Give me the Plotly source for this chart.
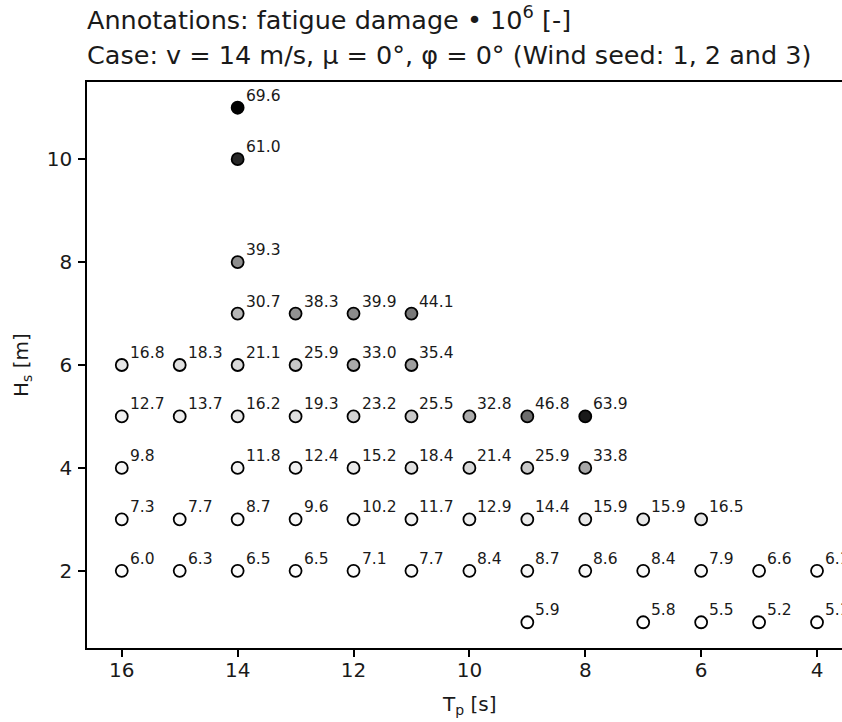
import plotly.graph_objects as go

# Data: wave peak period Tp [s], significant wave height Hs [m], fatigue damage * 1e6
tp = [16, 16, 16, 16, 16,
      15, 15, 15, 15,
      14, 14, 14, 14, 14, 14, 14, 14, 14,
      13, 13, 13, 13, 13, 13,
      12, 12, 12, 12, 12, 12,
      11, 11, 11, 11, 11, 11,
      10, 10, 10, 10,
      9, 9, 9, 9, 9,
      8, 8, 8, 8,
      7, 7, 7,
      6, 6, 6,
      5, 5,
      4, 4]
hs = [6, 5, 4, 3, 2,
      6, 5, 3, 2,
      11, 10, 8, 7, 6, 5, 4, 3, 2,
      7, 6, 5, 4, 3, 2,
      7, 6, 5, 4, 3, 2,
      7, 6, 5, 4, 3, 2,
      5, 4, 3, 2,
      5, 4, 3, 2, 1,
      5, 4, 3, 2,
      3, 2, 1,
      3, 2, 1,
      2, 1,
      2, 1]
damage = [16.8, 12.7, 9.8, 7.3, 6.0,
          18.3, 13.7, 7.7, 6.3,
          69.6, 61.0, 39.3, 30.7, 21.1, 16.2, 11.8, 8.7, 6.5,
          38.3, 25.9, 19.3, 12.4, 9.6, 6.5,
          39.9, 33.0, 23.2, 15.2, 10.2, 7.1,
          44.1, 35.4, 25.5, 18.4, 11.7, 7.7,
          32.8, 21.4, 12.9, 8.4,
          46.8, 25.9, 14.4, 8.7, 5.9,
          63.9, 33.8, 15.9, 8.6,
          15.9, 8.4, 5.8,
          16.5, 7.9, 5.5,
          6.6, 5.2,
          6.1, 5.1]

x_ticks = [4, 6, 8, 10, 12, 14, 16]
y_ticks = [2, 4, 6, 8, 10]

title_line1 = "Annotations: fatigue damage \u2022 10<sup>6</sup> [-]"
title_line2 = "Case: v = 14 m/s, \u03bc = 0\u00b0, \u03c6 = 0\u00b0 (Wind seed: 1, 2 and 3)"
x_title = "T<sub>p</sub> [s]"
y_title = "H<sub>s</sub> [m]"

# matplotlib "Greys" colormap
greys = [[0.0, "#ffffff"], [0.125, "#f0f0f0"], [0.25, "#d9d9d9"], [0.375, "#bdbdbd"],
         [0.5, "#969696"], [0.625, "#737373"], [0.75, "#525252"], [0.875, "#252525"],
         [1.0, "#000000"]]

FONT = "DejaVu Sans"
TXT = "#1a1a1a"

fig = go.Figure()
fig.add_trace(go.Scatter(
    x=tp, y=hs, mode="markers",
    marker=dict(size=12, color=damage, colorscale=greys,
                cmin=min(damage), cmax=max(damage),
                line=dict(color="black", width=1.8)),
    hoverinfo="skip", showlegend=False, cliponaxis=False,
))

annotations = []
for xv, yv, d in zip(tp, hs, damage):
    annotations.append(dict(
        x=xv, y=yv, xref="x", yref="y", text=f"{d:.1f}", showarrow=False,
        xanchor="left", yanchor="middle", xshift=6, yshift=12,
        font=dict(family=FONT, size=15.5, color=TXT),
    ))

annotations.append(dict(xref="paper", yref="paper", x=0, y=1, xanchor="left",
                        yanchor="bottom", yshift=45, xshift=-2, text=title_line1, showarrow=False,
                        font=dict(family=FONT, size=25.5, color=TXT)))
annotations.append(dict(xref="paper", yref="paper", x=0, y=1, xanchor="left",
                        yanchor="bottom", yshift=10, xshift=-2, text=title_line2, showarrow=False,
                        font=dict(family=FONT, size=25.5, color=TXT)))
annotations.append(dict(xref="paper", yref="paper", x=0.507, y=0, xanchor="center",
                        yanchor="middle", yshift=-57, text=x_title, showarrow=False,
                        font=dict(family=FONT, size=20, color=TXT)))
annotations.append(dict(xref="paper", yref="paper", x=0, y=0.5, xanchor="center",
                        yanchor="middle", xshift=-65, text=y_title, showarrow=False,
                        textangle=-90, font=dict(family=FONT, size=20, color=TXT)))

fig.update_layout(
    width=842, height=722,
    margin=dict(l=87, r=0, t=82, b=74),
    paper_bgcolor="white", plot_bgcolor="white",
    font=dict(family=FONT, size=20, color=TXT),
    annotations=annotations,
    xaxis=dict(range=[16.6, 3.569], tickvals=x_ticks, showgrid=False, zeroline=False,
               showline=True, linecolor="black", linewidth=1.5, mirror=True,
               ticks="outside", ticklen=7, tickwidth=1.5, tickcolor="black",
               ticklabelstandoff=-4,
               tickfont=dict(family=FONT, size=20, color=TXT)),
    yaxis=dict(range=[0.5, 11.5], tickvals=y_ticks, showgrid=False, zeroline=False,
               showline=True, linecolor="black", linewidth=1.5, mirror=False,
               ticks="outside", ticklen=7, tickwidth=1.5, tickcolor="black",
               ticklabelstandoff=2,
               tickfont=dict(family=FONT, size=20, color=TXT)),
)

fig.write_html("out.html")
